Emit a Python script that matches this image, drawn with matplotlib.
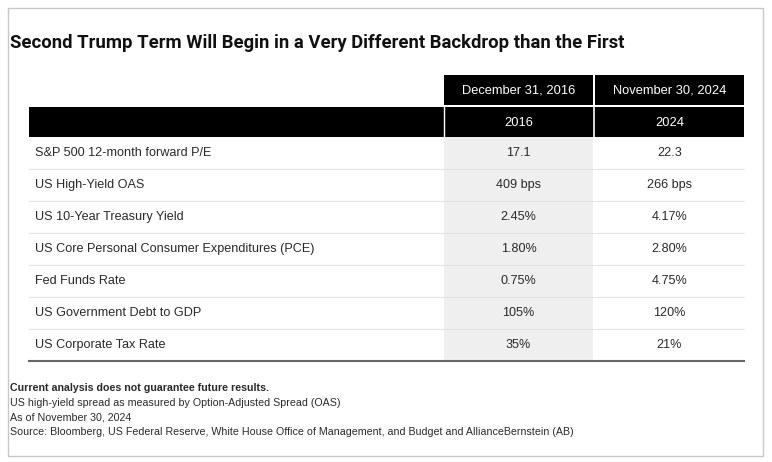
import matplotlib
matplotlib.use("Agg")
import matplotlib.pyplot as plt
from matplotlib.patches import Rectangle

title = "Second Trump Term Will Begin in a Very Different Backdrop than the First"
date_headers = ["December 31, 2016", "November 30, 2024"]
year_headers = ["2016", "2024"]
metrics = [
    "S&P 500 12-month forward P/E",
    "US High-Yield OAS",
    "US 10-Year Treasury Yield",
    "US Core Personal Consumer Expenditures (PCE)",
    "Fed Funds Rate",
    "US Government Debt to GDP",
    "US Corporate Tax Rate",
]
values_2016 = ["17.1", "409 bps", "2.45%", "1.80%", "0.75%", "105%", "35%"]
values_2024 = ["22.3", "266 bps", "4.17%", "2.80%", "4.75%", "120%", "21%"]
footnotes = [
    ("Current analysis does not guarantee future results.", "bold"),
    ("US high-yield spread as measured by Option-Adjusted Spread (OAS)", "normal"),
    ("As of November 30, 2024", "normal"),
    ("Source: Bloomberg, US Federal Reserve, White House Office of Management, and Budget and AllianceBernstein (AB)", "normal"),
]

W, H = 772, 462
fig = plt.figure(figsize=(W / 100, H / 100), dpi=100)
ax = fig.add_axes([0, 0, 1, 1])
ax.set_xlim(0, W)
ax.set_ylim(H, 0)
ax.axis("off")

FONT = "Liberation Sans"
TXT = "#2a2a2a"

# outer border
ax.add_patch(Rectangle((8, 8), 755, 448, fill=False, edgecolor="#c8c8c8", lw=1))

ax.text(10, 43, title, fontsize=13.35, fontweight="bold", family="Roboto",
        va="center", ha="left", color="#111111")

col_x = [(444, 593), (595, 744)]
row_top = 137
row_h = 32
left = 29
right = 744

# header row 1
for (x0, x1), lab in zip(col_x, date_headers):
    ax.add_patch(Rectangle((x0, 75), x1 - x0, 30, color="black", lw=0))
    ax.text((x0 + x1) / 2, 90.5, lab, color="white", fontsize=9.3, family=FONT,
            ha="center", va="center")

# header row 2
ax.add_patch(Rectangle((left, 107), right - left, 30, color="black", lw=0))
ax.plot([444, 444], [107, 137], color="white", lw=1)
ax.plot([594, 594], [107, 137], color="white", lw=1.2)
for (x0, x1), lab in zip(col_x, year_headers):
    ax.text((x0 + x1) / 2, 122.5, lab, color="white", fontsize=9.3, family=FONT,
            ha="center", va="center")

# shaded column
n = len(metrics)
ax.add_patch(Rectangle((444, row_top), 593 - 444, n * row_h, color="#efefef", lw=0, zorder=0))

for i, (m, a, b) in enumerate(zip(metrics, values_2016, values_2024)):
    yc = row_top + i * row_h + row_h / 2
    ax.text(35, yc, m, fontsize=9.1, family=FONT, ha="left", va="center", color=TXT)
    ax.text((col_x[0][0] + col_x[0][1]) / 2, yc, a, fontsize=9.1, family=FONT,
            ha="center", va="center", color=TXT)
    ax.text((col_x[1][0] + col_x[1][1]) / 2, yc, b, fontsize=9.1, family=FONT,
            ha="center", va="center", color=TXT)
    yb = row_top + (i + 1) * row_h
    if i < n - 1:
        ax.plot([left, right], [yb, yb], color="#e2e2e2", lw=0.8)
    else:
        ax.plot([left, right], [yb, yb], color="#666666", lw=1.5)

for j, (t, w) in enumerate(footnotes):
    ax.text(10, 388 + j * 14.7, t, fontsize=7.7, family=FONT, fontweight=w,
            ha="left", va="center", color=TXT)

fig.savefig("out.png", dpi=100)
